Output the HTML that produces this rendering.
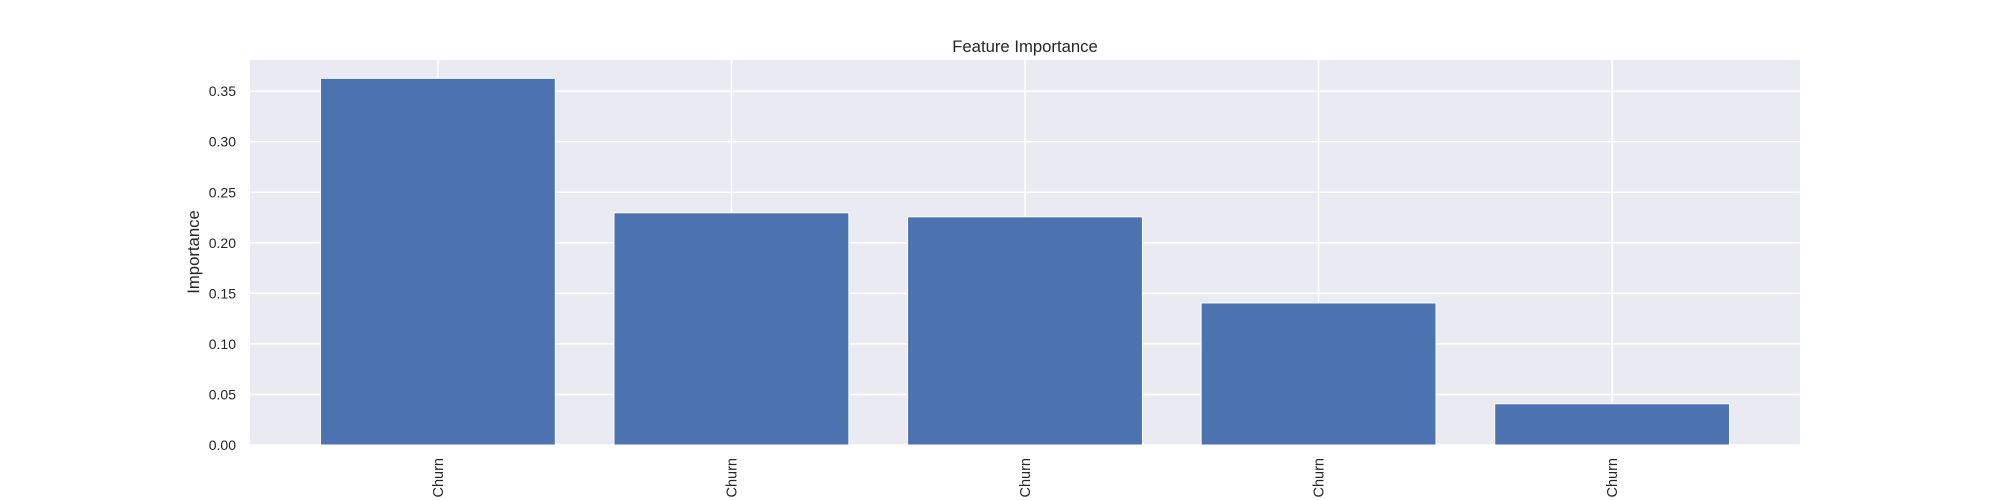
<!DOCTYPE html>
<html><head><meta charset="utf-8"><style>
html,body{margin:0;padding:0;background:#fff;overflow:hidden;}
svg{display:block;font-family:"Liberation Sans",Arial,sans-serif;}
</style></head><body>
<svg id="chart" width="2000" height="500" viewBox="0 0 2000 500" xmlns="http://www.w3.org/2000/svg">
<rect x="250" y="60" width="1550" height="385" fill="#eaeaf2"/>
<g id="grid"></g>
<g id="bars"></g>
<g id="xticks"></g>
<g id="yticks"></g>
<text x="1025" y="52" font-size="16.7" text-anchor="middle" fill="#262626">Feature Importance</text>
<text transform="translate(199,252) rotate(-90)" font-size="16.7" text-anchor="middle" fill="#262626">Importance</text>
</svg>
<script>
const categories = ["vs Churn", "vs Churn", "vs Churn", "vs Churn", "vs Churn"];
const values = [0.3627, 0.2297, 0.2257, 0.1405, 0.0408];
const yTicks = [0, 0.05, 0.10, 0.15, 0.20, 0.25, 0.30, 0.35];
const yTickLabels = ["0.00","0.05","0.10","0.15","0.20","0.25","0.30","0.35"];

const NS = "http://www.w3.org/2000/svg";
const L=250, R=1800, T=60, B=445;
const xMin=-0.64, xMax=categories.length-1+0.64;
const yMax = Math.max(...values)*1.05;
const xs = v => L + (v - xMin)/(xMax - xMin)*(R-L);
const ys = v => B - v/yMax*(B-T);
function mk(tag, attrs, parent){const e=document.createElementNS(NS,tag);for(const k in attrs)e.setAttribute(k,attrs[k]);parent.appendChild(e);return e;}
const grid=document.getElementById('grid'), bars=document.getElementById('bars'), xt=document.getElementById('xticks'), yt=document.getElementById('yticks');

yTicks.forEach((t,i)=>{
  const y=ys(t);
  const g=mk('line',{x1:L,x2:R,y1:y,y2:y,stroke:'#fff','stroke-width':1.5},grid);
  
  
  const tx=mk('text',{x:236,y:y+5,'font-size':14,'text-anchor':'end',fill:'#262626'},yt);
  tx.textContent=yTickLabels[i];
  
  
});
categories.forEach((c,i)=>{
  const x=xs(i);
  const g=mk('line',{x1:x,x2:x,y1:T,y2:B,stroke:'#fff','stroke-width':1.5},grid);
  
  
  const w=(xs(0.4)-xs(-0.4));
  const r=mk('rect',{x:x-w/2,y:ys(values[i]),width:w,height:B-ys(values[i]),fill:'#4c72b0',stroke:'#fff','stroke-width':1},bars);
  
  
  const tx=mk('text',{transform:`translate(${x+5},458) rotate(-90)`,'font-size':14.5,'text-anchor':'end',fill:'#262626'},xt);
  tx.textContent=c;
  
  
});
</script>
</body></html>
